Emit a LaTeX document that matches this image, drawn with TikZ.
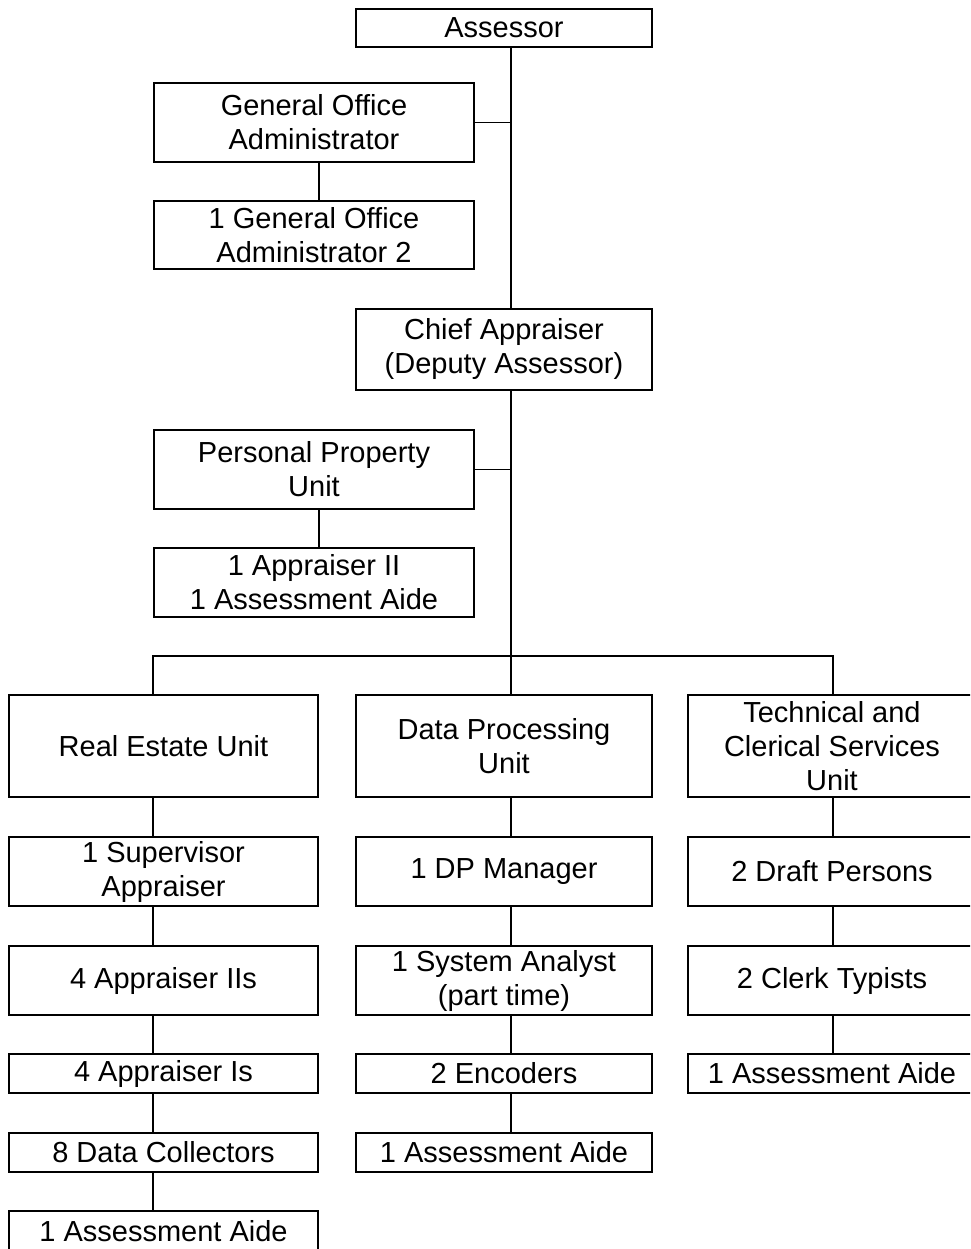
\documentclass[tikz,border=0pt]{standalone}
\usepackage{fontspec}
\setmainfont{Liberation Sans}
\begin{document}
\begin{tikzpicture}[x=1pt,y=-1pt,
  bx/.style={draw=black, line width=1.8pt, rectangle, inner sep=0pt, align=center,
    font=\fontsize{29}{34}\selectfont},
  ln/.style={draw=black, line width=1.8pt}]
\useasboundingbox (0,0) rectangle (970,1249);
\clip (0,0) rectangle (970,1249);
% x positions of connectors
\coordinate (tx) at (511,0);
\coordinate (gx) at (319,0);
\coordinate (lx) at (153,0);
\coordinate (rx) at (833,0);
\coordinate (bar) at (511,656);
% top part
\node[bx, minimum width=296, minimum height=38] (assessor) at (504,28) {Assessor};
\node[bx, minimum width=320, minimum height=79] (goa) at (314,122.5) {General Office\\Administrator};
\node[bx, minimum width=320, minimum height=68] (goa2) at (314,235) {1 General Office\\Administrator 2};
\node[bx, minimum width=296, minimum height=81] (chief) at (504,349.5) {Chief Appraiser\\(Deputy Assessor)};
\node[bx, minimum width=320, minimum height=79] (ppu) at (314,469.5) {Personal Property\\Unit};
\node[bx, minimum width=320, minimum height=69] (ppu2) at (314,582.5) {1 Appraiser II\\1 Assessment Aide};
% units
\node[bx, minimum width=309, minimum height=102] (re) at (163.5,746) {Real Estate Unit};
\node[bx, minimum width=296, minimum height=102] (dp) at (504,746) {Data Processing\\Unit};
\node[bx, minimum width=288, minimum height=102] (tc) at (832,746) {Technical and\\Clerical Services\\Unit};
% left column
\node[bx, minimum width=309, minimum height=69] (re1) at (163.5,871.5) {1 Supervisor\\Appraiser};
\node[bx, minimum width=309, minimum height=69] (re2) at (163.5,980.5) {4 Appraiser IIs};
\node[bx, minimum width=309, minimum height=39] (re3) at (163.5,1073.5) {4 Appraiser Is};
\node[bx, minimum width=309, minimum height=39] (re4) at (163.5,1152.5) {8 Data Collectors};
\node[bx, minimum width=309, minimum height=41] (re5) at (163.5,1231.5) {1 Assessment Aide};
% middle column
\node[bx, minimum width=296, minimum height=69] (dp1) at (504,871.5) {1 DP Manager};
\node[bx, minimum width=296, minimum height=69] (dp2) at (504,980.5) {1 System Analyst\\(part time)};
\node[bx, minimum width=296, minimum height=39] (dp3) at (504,1073.5) {2 Encoders};
\node[bx, minimum width=296, minimum height=39] (dp4) at (504,1152.5) {1 Assessment Aide};
% right column
\node[bx, minimum width=288, minimum height=69] (tc1) at (832,871.5) {2 Draft Persons};
\node[bx, minimum width=288, minimum height=69] (tc2) at (832,980.5) {2 Clerk Typists};
\node[bx, minimum width=288, minimum height=39] (tc3) at (832,1073.5) {1 Assessment Aide};
% connectors
\draw[ln] (assessor.south -| tx) -- (chief.north -| tx);
\draw[ln] (goa.east) -- (goa.east -| tx);
\draw[ln] (goa.south -| gx) -- (goa2.north -| gx);
\draw[ln] (chief.south -| tx) -- (bar);
\draw[ln] (ppu.east) -- (ppu.east -| tx);
\draw[ln] (ppu.south -| gx) -- (ppu2.north -| gx);
\draw[ln] (re.north -| lx) -- (lx |- bar) -- (rx |- bar) -- (tc.north -| rx);
\draw[ln] (bar) -- (dp.north -| tx);
\draw[ln] (re.south -| lx) -- (re1.north -| lx);
\draw[ln] (re1.south -| lx) -- (re2.north -| lx);
\draw[ln] (re2.south -| lx) -- (re3.north -| lx);
\draw[ln] (re3.south -| lx) -- (re4.north -| lx);
\draw[ln] (re4.south -| lx) -- (re5.north -| lx);
\draw[ln] (dp.south -| tx) -- (dp1.north -| tx);
\draw[ln] (dp1.south -| tx) -- (dp2.north -| tx);
\draw[ln] (dp2.south -| tx) -- (dp3.north -| tx);
\draw[ln] (dp3.south -| tx) -- (dp4.north -| tx);
\draw[ln] (tc.south -| rx) -- (tc1.north -| rx);
\draw[ln] (tc1.south -| rx) -- (tc2.north -| rx);
\draw[ln] (tc2.south -| rx) -- (tc3.north -| rx);
\end{tikzpicture}
\end{document}
